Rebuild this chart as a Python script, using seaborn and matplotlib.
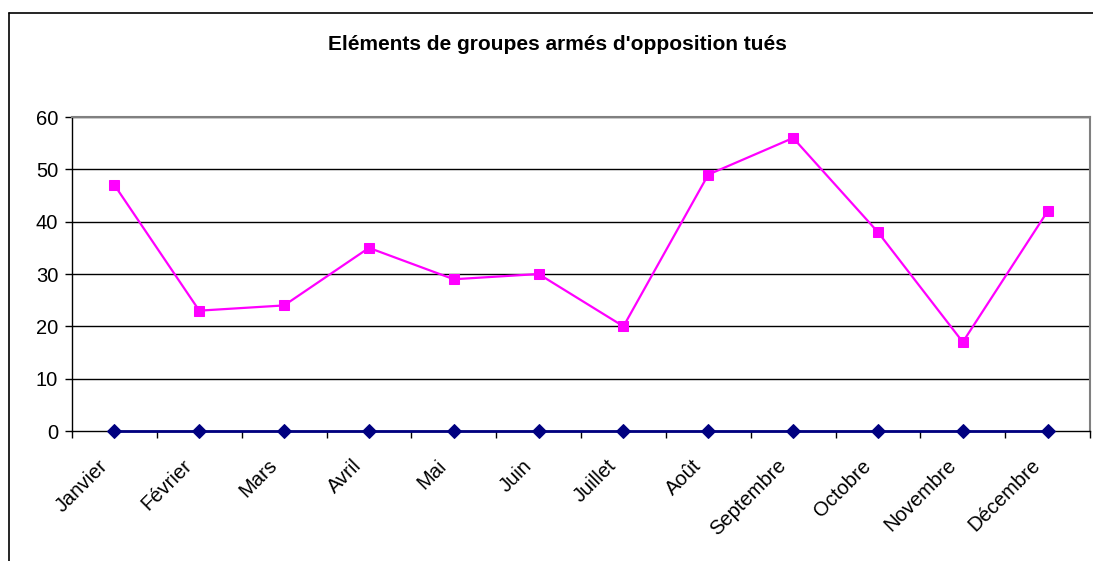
import numpy as np
import pandas as pd
import seaborn as sns
import matplotlib.pyplot as plt
from matplotlib.lines import Line2D
from matplotlib.transforms import ScaledTranslation

months = ["Janvier", "Février", "Mars", "Avril", "Mai", "Juin", "Juillet",
          "Août", "Septembre", "Octobre", "Novembre", "Décembre"]
tues = [47, 23, 24, 35, 29, 30, 20, 49, 56, 38, 17, 42]
autres = [0, 0, 0, 0, 0, 0, 0, 0, 0, 0, 0, 0]
y_ticks = [0, 10, 20, 30, 40, 50, 60]

sns.set_style("white")
plt.rcParams["font.family"] = ["Liberation Sans", "DejaVu Sans"]
plt.rcParams["text.color"] = "black"
plt.rcParams["xtick.color"] = "black"
plt.rcParams["ytick.color"] = "black"

df = pd.DataFrame({"mois": np.arange(len(months)), "tues": tues, "autres": autres})

fig = plt.figure(figsize=(10.93, 5.61), dpi=100)
ax = fig.add_axes([0.0659, 0.2317, 0.9314, 0.5597])

sns.lineplot(data=df, x="mois", y="tues", ax=ax, color="#FF00FF", marker="s",
             markersize=7.5, markeredgecolor="#FF00FF", linewidth=1.6)
sns.lineplot(data=df, x="mois", y="autres", ax=ax, color="#000080", marker="D",
             markersize=7, markeredgecolor="#000080", linewidth=2, clip_on=False, zorder=5)

ax.set_xlim(-0.5, len(months) - 0.5)
ax.set_ylim(0, 60)
ax.set_yticks(y_ticks)
ax.set_yticklabels([str(v) for v in y_ticks], fontsize=14.5)
for v in y_ticks[1:]:
    ax.axhline(v, color="black", linewidth=1, zorder=0)

ax.set_xticks(np.arange(-0.5, len(months)), minor=False)
ax.set_xticklabels([])
ax.set_xticks(np.arange(len(months)), minor=True)
ax.set_xticklabels(months, minor=True, rotation=45, ha="right",
                   rotation_mode="anchor", fontsize=14.5)
ax.tick_params(axis="x", which="major", direction="out", length=5, width=1,
               color="black", bottom=True)
ax.tick_params(axis="x", which="minor", length=0, pad=18)
ax.tick_params(axis="y", direction="out", length=5, width=1, color="black",
               left=True, pad=5)
shift = ScaledTranslation(-12 / 72, 0, fig.dpi_scale_trans)
for lab in ax.get_xticklabels(minor=True):
    lab.set_transform(lab.get_transform() + shift)

ax.set_xlabel("")
ax.set_ylabel("")
for side in ["top", "right"]:
    ax.spines[side].set_color("#808080")
    ax.spines[side].set_linewidth(1.5)
for side in ["left", "bottom"]:
    ax.spines[side].set_color("black")
    ax.spines[side].set_linewidth(1)

fig.text(557 / 1093, 1 - 45 / 561, "Eléments de groupes armés d'opposition tués",
         ha="center", va="center", fontsize=15, fontweight="bold")

# chart area border (left and top edges visible)
fig.add_artist(Line2D([9 / 1093, 9 / 1093], [0, 1 - 13 / 561], color="black",
                      linewidth=1.2, transform=fig.transFigure))
fig.add_artist(Line2D([9 / 1093, 1], [1 - 13 / 561, 1 - 13 / 561], color="black",
                      linewidth=1.2, transform=fig.transFigure))

fig.savefig("out.png", dpi=100)
